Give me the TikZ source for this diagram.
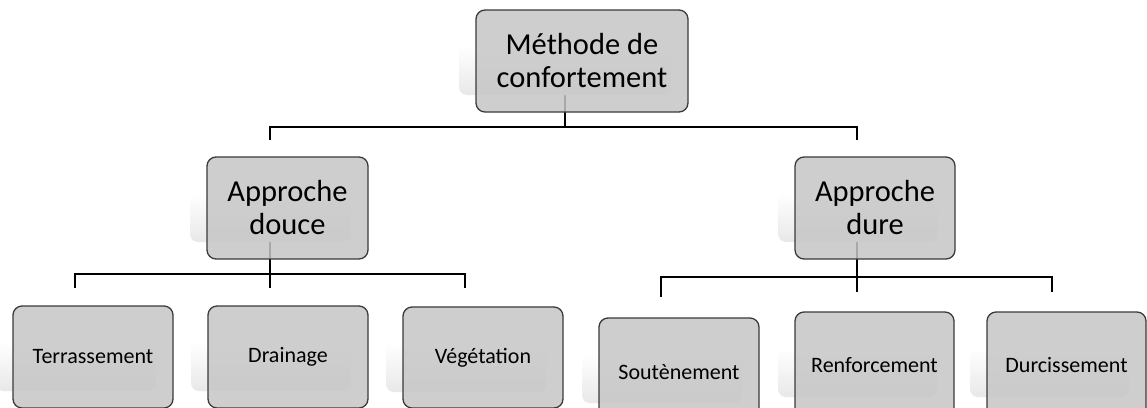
\documentclass[tikz,border=0pt]{standalone}
\usepackage{fontspec}
\setmainfont{Carlito}
\pgfdeclarelayer{bglayer}
\pgfdeclarelayer{connlayer}
\pgfdeclarelayer{shadlayer}
\pgfsetlayers{bglayer,connlayer,shadlayer,main}
\definecolor{boxfill}{RGB}{198,198,198}
\definecolor{boxline}{RGB}{58,58,58}
\tikzset{
  boxbase/.style={draw=boxline, line width=1.3pt, fill=boxfill, fill opacity=0.85, text opacity=1,
    rounded corners=9pt, inner sep=0pt, align=center, text=black},
  bigtext/.style={font=\fontsize{30.5}{33}\selectfont},
  smalltext/.style={font=\fontsize{22}{25}\selectfont},
  connline/.style={draw=black, line width=1.3pt},
}
% name, left, right, top, bottom, style, text
\newcommand\mkbox[7]{%
  \node[boxbase,#6, minimum width={#3-#2}, minimum height={#5-#4}] (#1) at ({(#2+#3)/2},{(#4+#5)/2}) {#7};
  \begin{pgfonlayer}{shadlayer}
    \shade[top color=white, bottom color=black!9, rounded corners=8pt] ({#2-17},{#4+36}) rectangle ({#3-17},{#4+85});
  \end{pgfonlayer}
}
\begin{document}
\begin{tikzpicture}[x=1pt,y=-1pt]
\useasboundingbox (0,0) rectangle (1147,407);
\clip (0,0) rectangle (1147,407);
\begin{pgfonlayer}{bglayer}
\fill[white] (0,0) rectangle (1147,407);
\end{pgfonlayer}

\mkbox{top}{476}{688}{10}{112}{bigtext}{Méthode de\\confortement}
\mkbox{douce}{207}{368}{157}{259}{bigtext}{Approche\\douce}
\mkbox{dure}{795}{955}{157}{259}{bigtext}{Approche\\dure}
\mkbox{terr}{13}{173}{306}{408}{smalltext}{Terrassement}
\mkbox{drain}{208}{368}{306}{408}{smalltext}{Drainage}
\mkbox{veg}{403}{563}{307}{408}{smalltext}{Végétation}
\mkbox{sout}{599}{759}{318}{426}{smalltext}{Soutènement}
\mkbox{renf}{795}{954}{312}{418}{smalltext}{Renforcement}
\mkbox{durc}{987}{1146}{312}{418}{smalltext}{Durcissement}

\coordinate (topStem) at (565,60);
\coordinate (topBus) at (565,127);
\coordinate (douceIn) at (270,140);
\coordinate (dureIn) at (857,140);
\coordinate (douceStem) at (270,208);
\coordinate (douceBus) at (270,274);
\coordinate (terrIn) at (75,288);
\coordinate (drainIn) at (270,288);
\coordinate (vegIn) at (465,288);
\coordinate (dureStem) at (857,208);
\coordinate (dureBus) at (857,277);
\coordinate (soutIn) at (661,297);
\coordinate (renfIn) at (857,292);
\coordinate (durcIn) at (1052,292);

\begin{pgfonlayer}{connlayer}
\draw[connline] (topStem) -- (topBus);
\draw[connline] (douceIn) -- (douceIn |- topBus) -- (dureIn |- topBus) -- (dureIn);
\draw[connline] (douceStem) -- (drainIn);
\draw[connline] (terrIn) -- (terrIn |- douceBus) -- (vegIn |- douceBus) -- (vegIn);
\draw[connline] (dureStem) -- (renfIn);
\draw[connline] (soutIn) -- (soutIn |- dureBus) -- (durcIn |- dureBus) -- (durcIn);
\end{pgfonlayer}
\end{tikzpicture}
\end{document}
